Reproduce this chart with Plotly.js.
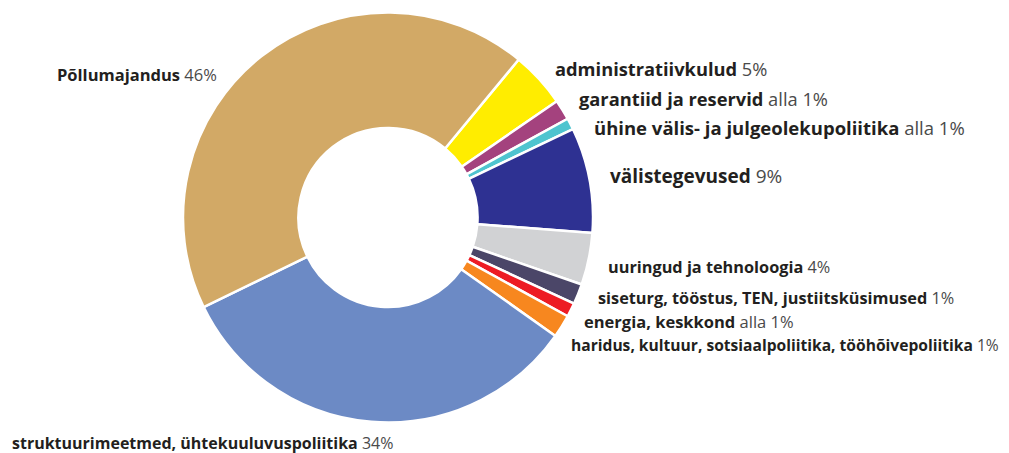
<!DOCTYPE html>
<html>
<head>
<meta charset="utf-8">
<script src="https://cdn.plot.ly/plotly-3.0.1.min.js"></script>
<style>html,body{margin:0;padding:0;background:#fff;}#chart{width:1009px;height:453px;}</style>
</head>
<body>
<div id="chart"></div>
<script>
// Slice order (clockwise, starting with administratiivkulud)
var categories = [
  "administratiivkulud",
  "garantiid ja reservid",
  "ühine välis- ja julgeolekupoliitika",
  "välistegevused",
  "uuringud ja tehnoloogia",
  "siseturg, tööstus, TEN, justiitsküsimused",
  "energia, keskkond",
  "haridus, kultuur, sotsiaalpoliitika, tööhõivepoliitika",
  "struktuurimeetmed, ühtekuuluvuspoliitika",
  "Põllumajandus"
];
// Slice sizes as drawn in the picture (share of circle, %)
var values = [4.4, 1.6, 0.9, 8.3, 4.1, 1.6, 1.1, 1.8, 33.0, 43.2];
// Printed labels
var shareLabels = ["5%", "alla 1%", "alla 1%", "9%", "4%", "1%", "alla 1%", "1%", "34%", "46%"];
var colors = ["#FFED00", "#A4427E", "#4FC4CF", "#2E3192", "#D1D2D4", "#4B4668", "#ED1C24", "#F7871F", "#6C8AC5", "#D2A966"];

// label placement (page pixels: left x, centre y) and font size
var labelPos = [
  [553, 68, 18.3],
  [577, 98, 18.3],
  [592, 127, 18.5],
  [608, 176, 19],
  [606, 267, 16.3],
  [596, 298, 16.3],
  [582, 321, 16.5],
  [569, 345, 15.6],
  [10, 443, 16],
  [55, 75, 16.5]
];

var W = 1009, H = 453;
var cx = 388, cy = 217.5, R = 205;

var annotations = categories.map(function (c, i) {
  var p = labelPos[i];
  return {
    xref: "paper", yref: "paper",
    x: p[0] / W, y: 1 - p[1] / H,
    xanchor: "left", yanchor: "middle",
    showarrow: false,
    text: "<b>" + c + "</b> <span style='color:#4a4a4a'>" + shareLabels[i] + "</span>",
    font: { family: "Open Sans, Noto Sans, sans-serif", size: p[2], color: "#231F20" }
  };
});

var trace = {
  type: "pie",
  labels: categories,
  values: values,
  sort: false,
  direction: "clockwise",
  rotation: 39.6,
  hole: 0.437,
  marker: { colors: colors, line: { color: "#ffffff", width: 2.5 } },
  textinfo: "none",
  hoverinfo: "label+percent",
  showlegend: false,
  domain: { x: [(cx - R) / W, (cx + R) / W], y: [1 - (cy + R) / H, 1 - (cy - R) / H] }
};

var layout = {
  width: W, height: H,
  margin: { l: 0, r: 0, t: 0, b: 0 },
  paper_bgcolor: "#ffffff",
  plot_bgcolor: "#ffffff",
  showlegend: false,
  annotations: annotations
};

Plotly.newPlot("chart", [trace], layout, { displayModeBar: false, staticPlot: true });
</script>
</body>
</html>
